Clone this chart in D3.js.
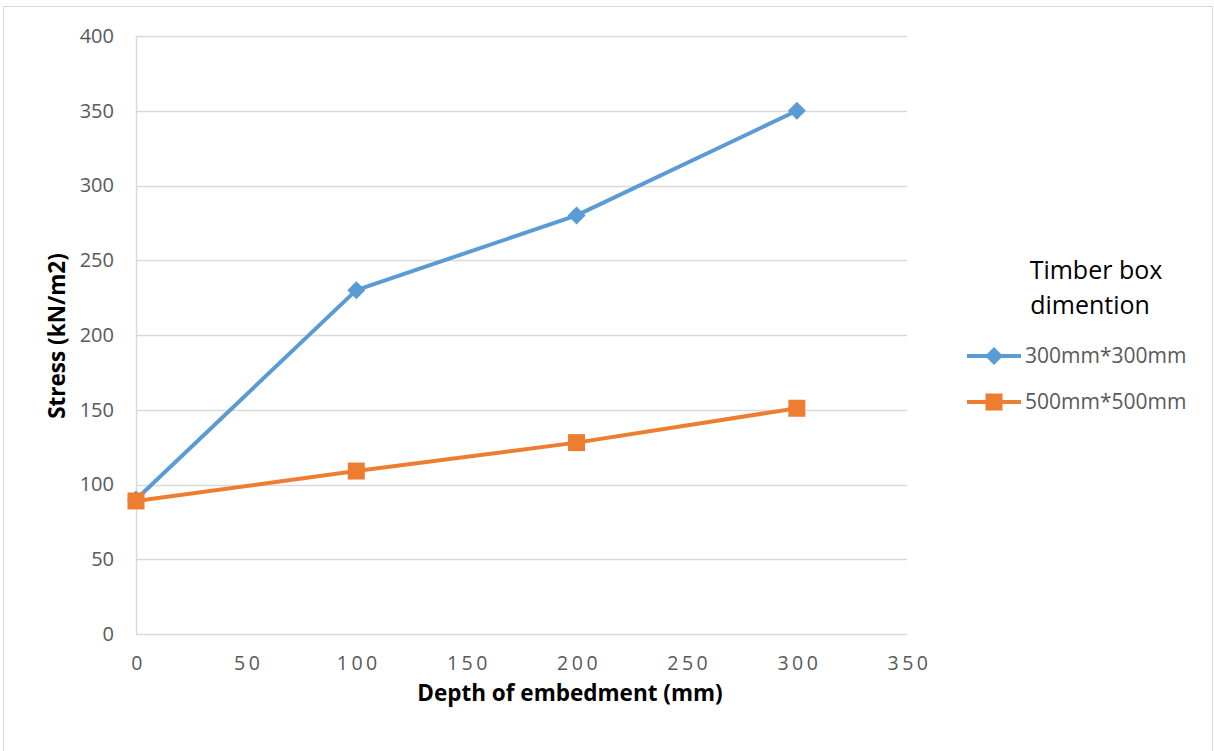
<!DOCTYPE html>
<html>
<head>
<meta charset="utf-8">
<script src="https://cdn.jsdelivr.net/npm/d3@7"></script>
<style>
  html, body { margin: 0; padding: 0; background: #fff; }
  svg { display: block; }
</style>
</head>
<body>
<svg id="chart" width="1214" height="751"></svg>
<script>
// Depth of embedment (mm) and measured stress (kN/m2) per timber box size
const depths = [0, 100, 200, 300];
const stress300 = [90, 230, 280, 350];
const stress500 = [89, 109, 128, 151];
const seriesNames = ["300mm*300mm", "500mm*500mm"];
const xTicks = [0, 50, 100, 150, 200, 250, 300, 350];
const yTicks = [0, 50, 100, 150, 200, 250, 300, 350, 400];

const svg = d3.select("#chart");
const FONT = "'Open Sans', 'Noto Sans', sans-serif";

// outer chart frame
svg.append("rect")
  .attr("x", 3.5).attr("y", 6.5)
  .attr("width", 1209).attr("height", 760)
  .attr("fill", "#fff").attr("stroke", "#d9d9d9").attr("stroke-width", 1);

const plot = { left: 136, right: 907, top: 36, bottom: 634 };
const x = d3.scaleLinear().domain([0, 350]).range([plot.left, plot.right]);
const y = d3.scaleLinear().domain([0, 400]).range([plot.bottom, plot.top]);

// horizontal gridlines
svg.append("g")
  .selectAll("line")
  .data(yTicks)
  .join("line")
  .attr("x1", plot.left).attr("x2", plot.right)
  .attr("y1", d => Math.round(y(d)) + 0.5).attr("y2", d => Math.round(y(d)) + 0.5)
  .attr("stroke", "#d9d9d9").attr("stroke-width", 1.5);

// vertical value axis line
svg.append("line")
  .attr("x1", plot.left + 0.5).attr("x2", plot.left + 0.5)
  .attr("y1", plot.top).attr("y2", plot.bottom)
  .attr("stroke", "#d9d9d9").attr("stroke-width", 1.5);

// y axis tick labels
const yAxis = d3.axisLeft(y).tickValues(yTicks).tickSize(0).tickPadding(22);
const gy = svg.append("g").attr("transform", `translate(${plot.left},0)`).call(yAxis);
gy.select(".domain").remove();
gy.selectAll("text")
  .attr("font-family", FONT).attr("font-size", 20).attr("fill", "#595959");

// x axis tick labels
const xAxis = d3.axisBottom(x).tickValues(xTicks).tickSize(0).tickPadding(22);
const gx = svg.append("g").attr("transform", `translate(0,${plot.bottom})`).call(xAxis);
gx.select(".domain").remove();
gx.selectAll("text")
  .attr("font-family", FONT).attr("font-size", 19.5).attr("fill", "#595959")
  .attr("letter-spacing", 3.5)
  .attr("dx", 2);

// axis titles
svg.append("text")
  .attr("x", 570).attr("y", 701)
  .attr("text-anchor", "middle")
  .attr("font-family", FONT).attr("font-size", 22.5).attr("font-weight", "bold")
  .attr("fill", "#000")
  .text("Depth of embedment (mm)");

svg.append("text")
  .attr("transform", `translate(65,336) rotate(-90)`)
  .attr("text-anchor", "middle")
  .attr("font-family", FONT).attr("font-size", 22.5).attr("font-weight", "bold")
  .attr("fill", "#000")
  .text("Stress (kN/m2)");

const series = [
  { name: seriesNames[0], values: stress300, color: "#5b9bd5", marker: "diamond" },
  { name: seriesNames[1], values: stress500, color: "#ed7d31", marker: "square" }
];

const line = d3.line().x(d => x(d[0])).y(d => y(d[1]));

function drawMarker(g, type, color) {
  if (type === "diamond") {
    g.append("path")
      .attr("d", "M0,-9L9,0L0,9L-9,0Z")
      .attr("fill", color);
  } else {
    g.append("rect")
      .attr("x", -8.5).attr("y", -8.5).attr("width", 17).attr("height", 17)
      .attr("fill", color);
  }
}

series.forEach(s => {
  const pts = depths.map((d, i) => [d, s.values[i]]);
  svg.append("path")
    .datum(pts)
    .attr("d", line)
    .attr("fill", "none")
    .attr("stroke", s.color)
    .attr("stroke-width", 4)
    .attr("stroke-linejoin", "round");
  pts.forEach(p => {
    const g = svg.append("g").attr("transform", `translate(${x(p[0])},${y(p[1])})`);
    drawMarker(g, s.marker, s.color);
  });
});

// legend
const legend = svg.append("g");
legend.append("text")
  .attr("x", 1096).attr("y", 279)
  .attr("text-anchor", "middle")
  .attr("font-family", FONT).attr("font-size", 25).attr("fill", "#000")
  .text("Timber box");
legend.append("text")
  .attr("x", 1090).attr("y", 314)
  .attr("text-anchor", "middle")
  .attr("font-family", FONT).attr("font-size", 25).attr("fill", "#000")
  .text("dimention");

series.forEach((s, i) => {
  const yy = 356 + i * 46;
  legend.append("line")
    .attr("x1", 967).attr("x2", 1021)
    .attr("y1", yy).attr("y2", yy)
    .attr("stroke", s.color).attr("stroke-width", 4);
  const g = legend.append("g").attr("transform", `translate(994,${yy})`);
  drawMarker(g, s.marker, s.color);
  legend.append("text")
    .attr("x", 1025).attr("y", yy)
    .attr("dy", "0.35em")
    .attr("font-family", FONT).attr("font-size", 21).attr("fill", "#595959")
    .text(s.name);
});
</script>
</body>
</html>
